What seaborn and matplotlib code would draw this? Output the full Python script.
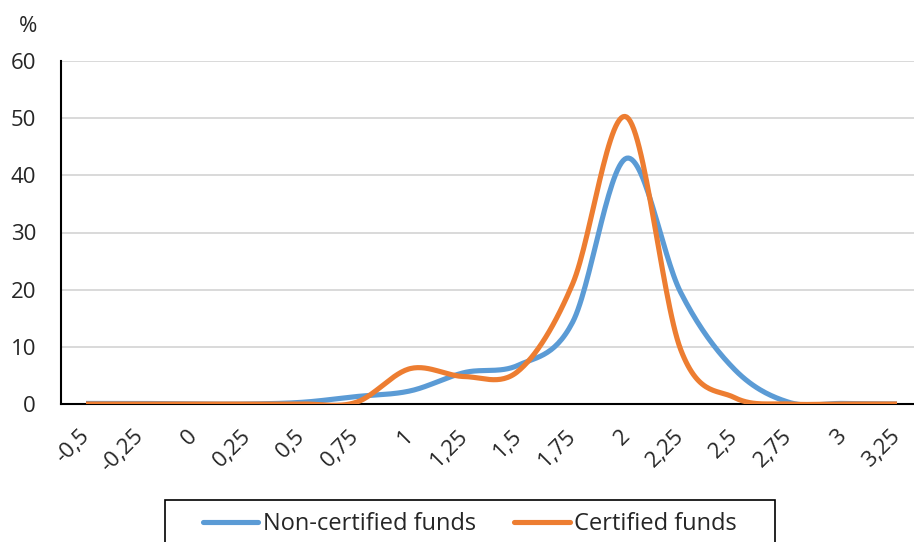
import numpy as np
import pandas as pd
import matplotlib
matplotlib.use("Agg")
import matplotlib.pyplot as plt
from matplotlib.patches import Rectangle
import seaborn as sns

# -----------------------------
# Data
# -----------------------------
x_values = [-0.5, -0.25, 0, 0.25, 0.5, 0.75, 1, 1.25, 1.5, 1.75, 2, 2.25, 2.5, 2.75, 3, 3.25]
x_labels = ["-0,5", "-0,25", "0", "0,25", "0,5", "0,75", "1", "1,25", "1,5", "1,75",
            "2", "2,25", "2,5", "2,75", "3", "3,25"]
non_certified = [0.1, 0.1, 0, 0, 0.3, 1.3, 2.3, 5.5, 6.8, 14.3, 43.0, 19.5, 6.0, 0.3, 0.1, 0]
certified = [0, 0, 0, 0, 0, 0.3, 6.2, 4.8, 5.8, 21.0, 50.2, 9.5, 1.1, 0, 0, 0]
y_ticks = [0, 10, 20, 30, 40, 50, 60]

BLUE = "#5B9BD5"
ORANGE = "#ED7D31"


def smooth(xs, ys, n=30):
    # Excel-style smoothed line (Catmull-Rom through the points)
    xs = np.asarray(xs, float)
    ys = np.asarray(ys, float)
    px = np.concatenate([[2 * xs[0] - xs[1]], xs, [2 * xs[-1] - xs[-2]]])
    py = np.concatenate([[ys[0]], ys, [ys[-1]]])
    out_x, out_y = [], []
    t = np.linspace(0, 1, n, endpoint=False)
    h00 = 2 * t**3 - 3 * t**2 + 1
    h10 = t**3 - 2 * t**2 + t
    h01 = -2 * t**3 + 3 * t**2
    h11 = t**3 - t**2
    for i in range(1, len(px) - 2):
        m1y = (py[i + 1] - py[i - 1]) / 2
        m2y = (py[i + 2] - py[i]) / 2
        out_x.extend(px[i] + t * (px[i + 1] - px[i]))
        out_y.extend(h00 * py[i] + h10 * m1y + h01 * py[i + 1] + h11 * m2y)
    out_x.append(xs[-1])
    out_y.append(ys[-1])
    return np.array(out_x), np.array(out_y)


bx, by = smooth(x_values, non_certified)
ox, oy = smooth(x_values, certified)
df_blue = pd.DataFrame({"x": bx, "y": by})
df_orange = pd.DataFrame({"x": ox, "y": oy})

# -----------------------------
# Plot
# -----------------------------
sns.set_style("white")
plt.rcParams["font.family"] = ["Open Sans", "DejaVu Sans"]

W, H = 914, 542
fig = plt.figure(figsize=(W / 100, H / 100), dpi=100)
ax = fig.add_axes([61 / W, (H - 404) / H, (W - 61) / W, (404 - 61) / H])

sns.lineplot(data=df_blue, x="x", y="y", color=BLUE, lw=3.7, sort=False,
             label="Non-certified funds", ax=ax, solid_capstyle="butt")
sns.lineplot(data=df_orange, x="x", y="y", color=ORANGE, lw=3.7, sort=False,
             label="Certified funds", ax=ax, solid_capstyle="butt")

px_unit = 0.25 / 54.07
ax.set_xlim(-0.5 - 25 * px_unit, 3.25 + 17 * px_unit)
ax.set_ylim(0, 60)
ax.set_yticks(y_ticks)
ax.set_yticklabels([str(v) for v in y_ticks], fontsize=16)
ax.set_xticks(x_values)
ax.set_xticklabels(x_labels, fontsize=16, rotation=45, ha="right", va="center",
                   rotation_mode="anchor")
ax.tick_params(axis="y", length=0, pad=18)
ax.tick_params(axis="x", length=0, pad=21)
ax.set_xlabel("")
ax.set_ylabel("")

ax.grid(axis="y", color="#d9d9d9", lw=1.4)
ax.set_axisbelow(True)
for side in ["top", "right"]:
    ax.spines[side].set_visible(False)
for side in ["left", "bottom"]:
    ax.spines[side].set_color("black")
    ax.spines[side].set_linewidth(1.5)
ax.spines["bottom"].set_zorder(1.5)

fig.text(28 / W, 1 - 26 / H, "%", fontsize=16, ha="center", va="center")

# legend (box is cut by the bottom of the picture)
handles, labels = ax.get_legend_handles_labels()
leg = ax.legend(handles, labels, loc="center left", bbox_to_anchor=(203 / W, 1 - 524 / H),
                bbox_transform=fig.transFigure, ncol=2, frameon=False, fontsize=17,
                handlelength=2.35, handletextpad=0.2, columnspacing=1.6, borderpad=0,
                borderaxespad=0)
for line in leg.get_lines():
    line.set_solid_capstyle("round")
fig.add_artist(Rectangle((165 / W, -0.1), (775 - 165) / W, 0.1 + (H - 500) / H,
                         transform=fig.transFigure, fill=False, edgecolor="black",
                         lw=1.2))

plt.savefig("out.png", dpi=100)
